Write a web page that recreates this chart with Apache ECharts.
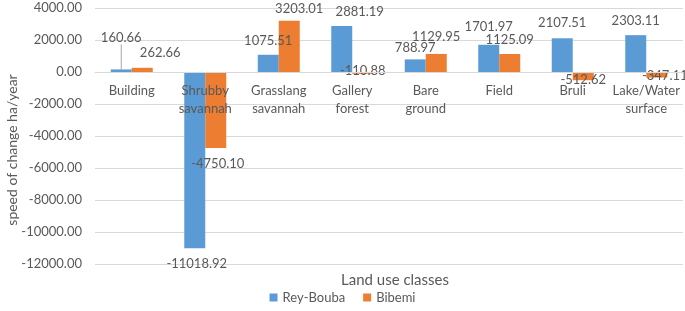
<!DOCTYPE html>
<html>
<head>
<meta charset="utf-8">
<script src="https://cdn.jsdelivr.net/npm/echarts@6/dist/echarts.min.js"></script>
<style>
  html, body { margin: 0; padding: 0; background: #fff; }
  #chart { width: 685px; height: 311px; }
</style>
</head>
<body>
<div id="chart"></div>
<script>
  const categories = ['Building', 'Shrubby\nsavannah', 'Grasslang\nsavannah', 'Gallery\nforest',
    'Bare\nground', 'Field', 'Bruli', 'Lake/Water\nsurface'];
  const reyBouba = [160.66, -11018.92, 1075.51, 2881.19, 788.97, 1701.97, 2107.51, 2303.11];
  const bibemi = [262.66, -4750.10, 3203.01, -110.88, 1129.95, 1125.09, -512.62, -347.11];

  // label nudges (px) so the value labels sit where the original put them
  const reyNudge = [[0, -20], [2, 4], [0, -2], [18, -3], [0, 0], [0, -6], [0, -4], [0, -3]];
  const bibNudge = [[18, -3], [2, 4], [10, 0], [0, -14], [0, -6], [0, -3], [0, -12], [8, -13]];

  const font = 'Lato, "Open Sans", sans-serif';
  const grey = '#595959';

  const chart = echarts.init(document.getElementById('chart'));

  function withSides(values) {
    return values.map(v => ({
      value: v,
      label: {position: v < 0 ? 'bottom' : 'top'}
    }));
  }

  function makeSeries(name, color, values, nudge) {
    return {
      name: name,
      type: 'bar',
      barWidth: 21,
      barGap: '0%',
      itemStyle: {color: color},
      label: {
        show: true,
        color: grey,
        fontSize: 13,
        fontFamily: font,
        distance: 5,
        formatter: p => p.value.toFixed(2)
      },
      labelLine: {show: false, lineStyle: {color: '#a6a6a6', width: 1}},
      labelLayout: p => {
        const n = nudge[p.dataIndex];
        return {dx: n[0], dy: n[1]};
      },
      data: withSides(values)
    };
  }

  const series = [
    makeSeries('Rey-Bouba', '#5B9BD5', reyBouba, reyNudge),
    makeSeries('Bibemi', '#ED7D31', bibemi, bibNudge)
  ];
  // leader line for the Building label
  series[0].data[0].labelLine = {show: true, smooth: false, length2: 0};

  // plot is 256px tall for 16000 units; the category axis sits on the 0 line
  const plotTop = 8, plotBottom = 47, yMin = -12000, yMax = 4000;
  const plotH = 311 - plotTop - plotBottom;
  const zeroShift = -plotH * (0 - yMin) / (yMax - yMin);

  chart.setOption({
    animation: false,
    textStyle: {fontFamily: font},
    grid: {left: 95, right: 2, top: plotTop, bottom: plotBottom},
    title: {
      text: 'Land use classes',
      left: 390,
      top: 268,
      textAlign: 'center',
      textStyle: {color: grey, fontSize: 15, fontWeight: 'normal', fontFamily: font}
    },
    graphic: [{
      type: 'text',
      x: 12,
      y: 150,
      rotation: Math.PI / 2,
      style: {
        text: 'speed of change ha/year',
        fill: grey,
        font: '14px ' + font,
        align: 'center',
        verticalAlign: 'middle'
      }
    }],
    legend: {
      bottom: 2,
      left: 'center',
      itemWidth: 8,
      itemHeight: 8,
      itemGap: 18,
      icon: 'rect',
      textStyle: {color: grey, fontSize: 13, fontFamily: font},
      data: ['Rey-Bouba', 'Bibemi']
    },
    xAxis: {
      type: 'category',
      data: categories,
      offset: zeroShift,
      z: 5,
      axisLine: {onZero: false, lineStyle: {color: '#d9d9d9'}},
      axisTick: {show: false},
      axisLabel: {color: grey, fontSize: 13, fontFamily: font, lineHeight: 18, margin: 10, interval: 0}
    },
    yAxis: {
      type: 'value',
      min: yMin,
      max: yMax,
      interval: 2000,
      axisLine: {show: false},
      axisTick: {show: false},
      axisLabel: {color: grey, fontSize: 13, fontFamily: font, margin: 13, formatter: v => v.toFixed(2)},
      splitLine: {lineStyle: {color: '#d9d9d9'}}
    },
    series: series
  });
</script>
</body>
</html>
